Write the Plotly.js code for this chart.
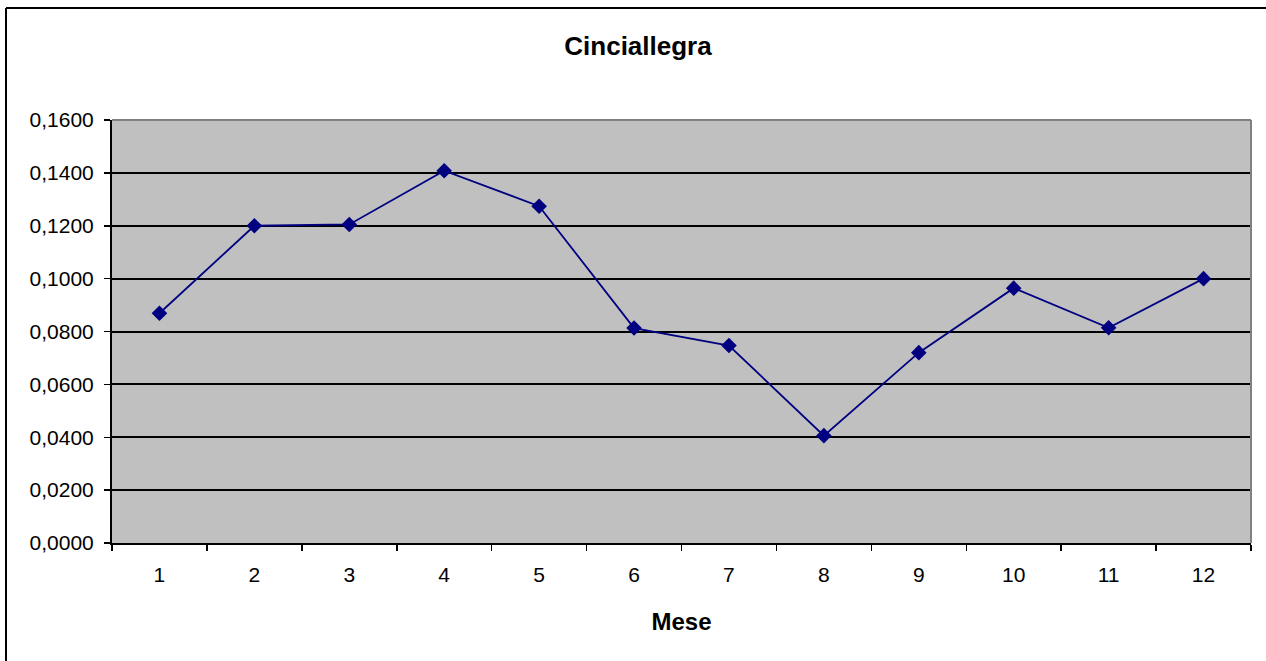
<!DOCTYPE html>
<html>
<head>
<meta charset="utf-8">
<script src="https://cdn.plot.ly/plotly-3.0.1.min.js"></script>
<style>html,body{margin:0;padding:0;background:#fff;}#chart{width:1266px;height:661px;}</style>
</head>
<body>
<div id="chart"></div>
<script>
const months = ['1','2','3','4','5','6','7','8','9','10','11','12'];
const values = [0.0869, 0.1200, 0.1205, 0.1408, 0.1274, 0.0813, 0.0747, 0.0406, 0.0720, 0.0964, 0.0814, 0.1000];
const yTicks = [0, 0.02, 0.04, 0.06, 0.08, 0.10, 0.12, 0.14, 0.16];
const yTickText = ['0,0000','0,0200','0,0400','0,0600','0,0800','0,1000','0,1200','0,1400','0,1600'];
const chartTitle = 'Cinciallegra';
const xTitle = 'Mese';

const W = 1266, H = 661;
const M = {l: 112, r: 15, t: 120, b: 118};
const pw = W - M.l - M.r, ph = H - M.t - M.b;
const px = x => (x - M.l) / pw;
const py = y => (H - M.b - y) / ph;

const trace = {
  x: months, y: values, type: 'scatter', mode: 'lines+markers',
  line: {color: '#000080', width: 1.8},
  marker: {symbol: 'diamond', size: 12, color: '#000080'},
  hoverinfo: 'skip'
};

const layout = {
  width: W, height: H,
  margin: M,
  paper_bgcolor: '#ffffff',
  plot_bgcolor: '#c0c0c0',
  showlegend: false,
  font: {family: 'Arial, "Liberation Sans", sans-serif', color: '#000'},
  title: {text: '<b>' + chartTitle + '</b>', xref: 'container', x: 638 / W, xanchor: 'center', y: 1 - 46 / H, yanchor: 'middle', font: {size: 26, color: '#000'}},
  xaxis: {
    type: 'category', tickson: 'boundaries', range: [-0.5, 11.5],
    ticks: 'outside', ticklen: 6, tickwidth: 1.5, tickcolor: '#000',
    showline: true, linecolor: '#000', linewidth: 2,
    showgrid: false, zeroline: false,
    tickfont: {size: 21}, ticklabelstandoff: 12,
    title: {text: '<b>' + xTitle + '</b>', font: {size: 24}, standoff: 28}
  },
  yaxis: {
    range: [0, 0.16], tickvals: yTicks, ticktext: yTickText,
    ticks: 'outside', ticklen: 6, tickwidth: 1.5, tickcolor: '#000',
    showline: true, linecolor: '#000', linewidth: 2,
    showgrid: true, gridcolor: '#000', gridwidth: 2,
    zeroline: false, tickfont: {size: 21}, ticklabelstandoff: 6
  },
  shapes: [
    {type: 'line', xref: 'paper', yref: 'paper', x0: 0, x1: 1, y0: 1, y1: 1, line: {color: '#808080', width: 2}},
    {type: 'line', xref: 'paper', yref: 'paper', x0: 1, x1: 1, y0: 0, y1: 1, line: {color: '#808080', width: 2}},
    {type: 'line', xref: 'paper', yref: 'paper', x0: px(6), x1: px(1275), y0: py(8), y1: py(8), line: {color: '#000', width: 2}},
    {type: 'line', xref: 'paper', yref: 'paper', x0: px(6), x1: px(6), y0: py(8), y1: py(670), line: {color: '#000', width: 2}}
  ]
};

Plotly.newPlot('chart', [trace], layout, {displayModeBar: false, staticPlot: true});
</script>
</body>
</html>
